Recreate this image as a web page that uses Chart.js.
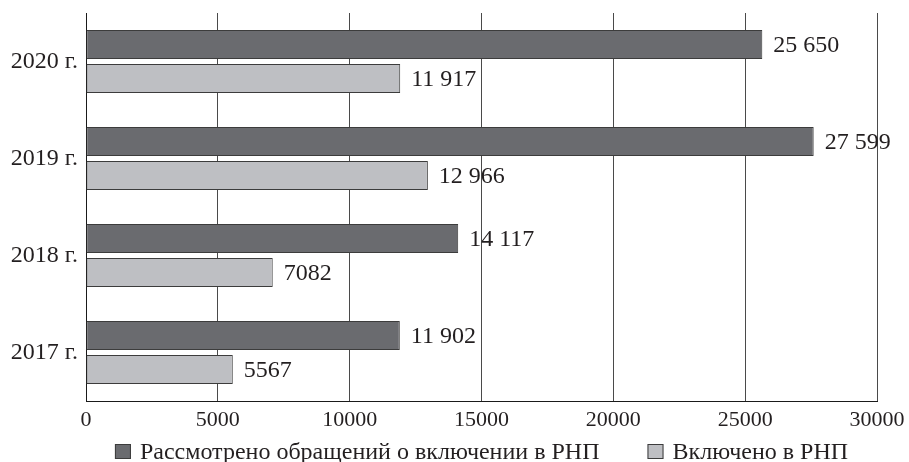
<!DOCTYPE html>
<html>
<head>
<meta charset="utf-8">
<script src="https://cdn.jsdelivr.net/npm/chart.js@4/dist/chart.umd.min.js"></script>
<style>html,body{margin:0;padding:0;background:#fff}</style>
</head>
<body>
<canvas id="c" width="909" height="462"></canvas>
<script>
// Categories (top to bottom) and series values
const years = ['2020 г.', '2019 г.', '2018 г.', '2017 г.'];
const reviewed = [25650, 27599, 14117, 11902];
const included = [11917, 12966, 7082, 5567];
const seriesNames = ['Рассмотрено обращений о включении в РНП', 'Включено в РНП'];
const xTicks = [0, 5000, 10000, 15000, 20000, 25000, 30000];

const FONT = "'Liberation Serif', 'Times New Roman', serif";
const TEXT = '#231f20';
const DARK = '#6a6b6f';
const LIGHT = '#bebfc3';
const EDGE = '#3c3c3c';

// Thousands separated by a space for five-digit numbers
function fmt(v) {
  const s = String(v);
  return v >= 10000 ? s.replace(/\B(?=(\d{3})+(?!\d))/g, ' ') : s;
}

const valueLabels = {
  id: 'valueLabels',
  afterDatasetsDraw(chart) {
    const ctx = chart.ctx;
    ctx.save();
    ctx.font = '24px ' + FONT;
    ctx.fillStyle = TEXT;
    ctx.textAlign = 'left';
    ctx.textBaseline = 'middle';
    chart.data.datasets.forEach((ds, di) => {
      chart.getDatasetMeta(di).data.forEach((el, i) => {
        ctx.fillText(fmt(ds.data[i]), el.x + 11, el.y + 1);
      });
    });
    ctx.restore();
  }
};

const bottomLegend = {
  id: 'bottomLegend',
  afterDraw(chart) {
    const ctx = chart.ctx;
    const area = chart.chartArea;
    ctx.save();
    ctx.font = '24px ' + FONT;
    const box = 16, gap = 9, between = 48;
    const items = chart.data.datasets.map(ds => ({
      label: ds.label, color: ds.backgroundColor, w: ctx.measureText(ds.label).width
    }));
    let total = 0;
    items.forEach((it, i) => { total += box + gap + it.w + (i ? between : 0); });
    let x = (area.left + area.right) / 2 - total / 2;
    const cy = 452;
    items.forEach((it) => {
      ctx.fillStyle = it.color;
      ctx.fillRect(x, cy - box / 2, box, box - 1);
      ctx.strokeStyle = EDGE;
      ctx.lineWidth = 1;
      ctx.strokeRect(x + 0.5, cy - box / 2 + 0.5, box - 1, box - 2);
      ctx.fillStyle = TEXT;
      ctx.textAlign = 'left';
      ctx.textBaseline = 'middle';
      ctx.fillText(it.label, x + box + gap, cy + 1);
      x += box + gap + it.w + between;
    });
    ctx.restore();
  }
};

new Chart(document.getElementById('c'), {
  type: 'bar',
  data: {
    labels: years,
    datasets: [
      { label: seriesNames[0], data: reviewed, backgroundColor: DARK },
      { label: seriesNames[1], data: included, backgroundColor: LIGHT }
    ]
  },
  options: {
    indexAxis: 'y',
    responsive: false,
    animation: false,
    devicePixelRatio: 1,
    layout: { padding: { top: 13, right: 32, left: 0, bottom: 0 } },
    datasets: {
      bar: {
        categoryPercentage: 0.70,
        barPercentage: 0.853,
        borderColor: EDGE,
        borderWidth: 1,
        borderSkipped: false
      }
    },
    plugins: {
      legend: { display: false },
      tooltip: { enabled: false }
    },
    scales: {
      x: {
        min: 0,
        max: 30000,
        afterBuildTicks(scale) { scale.ticks = xTicks.map(v => ({ value: v })); },
        afterFit(scale) {
          scale.height = 61;
          scale.paddingLeft = 0;
          scale.paddingRight = 0;
        },
        grid: { color: '#4a4a4a', lineWidth: 1, drawTicks: false },
        border: { display: true, color: '#1a1a1a', width: 1 },
        ticks: {
          padding: 6,
          color: TEXT,
          font: { family: FONT, size: 22 },
          callback: (v) => String(v)
        }
      },
      y: {
        afterFit(scale) {
          scale.width = 86;
          scale.paddingTop = 0;
          scale.paddingBottom = 0;
        },
        grid: { display: false, drawTicks: false },
        border: { display: true, color: '#1a1a1a', width: 1 },
        ticks: {
          padding: 8,
          color: TEXT,
          font: { family: FONT, size: 24 }
        }
      }
    }
  },
  plugins: [valueLabels, bottomLegend]
});
</script>
</body>
</html>
